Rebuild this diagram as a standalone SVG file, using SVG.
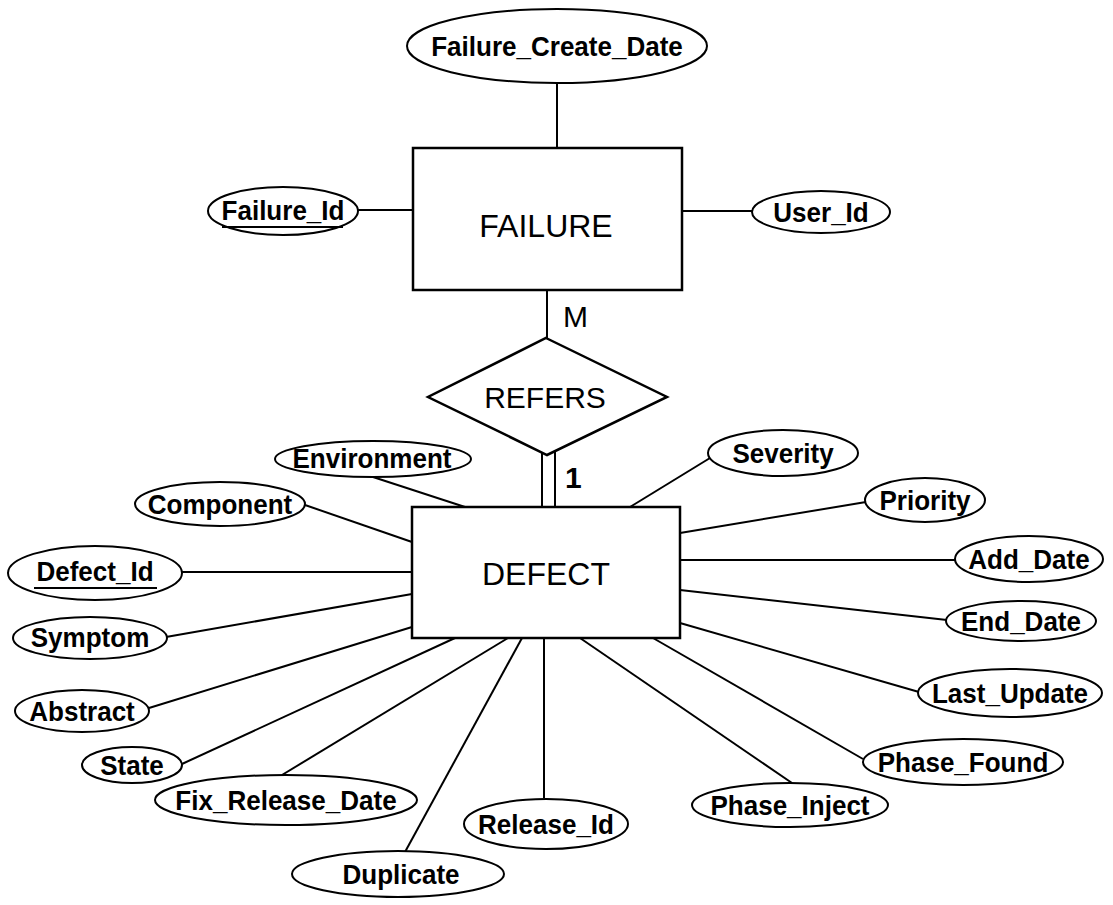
<svg xmlns="http://www.w3.org/2000/svg" width="1113" height="905" viewBox="0 0 1113 905">
  <style>
    .attr ellipse { fill: #fff; stroke: #000; stroke-width: 2; }
    .attr text { font-family: "Liberation Sans", Arial, sans-serif; font-weight: bold; font-size: 28px; text-anchor: middle; fill: #000; }
    .key { stroke: #000; stroke-width: 2; }
    .entity rect, .rel polygon { fill: #fff; stroke: #000; stroke-width: 2.5; }
    .entity text, .rel text { font-family: "Liberation Sans", Arial, sans-serif; font-size: 32px; text-anchor: middle; fill: #000; }
    .card { font-family: "Liberation Sans", Arial, sans-serif; font-size: 30px; fill: #000; }
    #connectors line { stroke: #000; stroke-width: 2; }
  </style>
  <rect width="1113" height="905" fill="#fff"/>

  <!-- attribute links and relationship lines -->
  <g id="connectors">
    <line x1="557" y1="82" x2="557" y2="148"/>
    <line x1="357" y1="210" x2="413" y2="210"/>
    <line x1="682" y1="211" x2="752" y2="211"/>
    <line x1="547" y1="290" x2="547" y2="338"/>
    <line x1="542" y1="453" x2="542" y2="507"/>
    <line x1="555" y1="452" x2="555" y2="507"/>
    <line x1="373" y1="477" x2="465" y2="507"/>
    <line x1="305" y1="505" x2="412" y2="542"/>
    <line x1="182" y1="572" x2="412" y2="572"/>
    <line x1="166" y1="637" x2="412" y2="594"/>
    <line x1="149" y1="708" x2="412" y2="627"/>
    <line x1="182" y1="764" x2="455" y2="638"/>
    <line x1="282" y1="775" x2="508" y2="638"/>
    <line x1="405" y1="852" x2="522" y2="638"/>
    <line x1="544" y1="638" x2="544" y2="798"/>
    <line x1="580" y1="638" x2="792" y2="783"/>
    <line x1="653" y1="638" x2="863" y2="759"/>
    <line x1="680" y1="623" x2="919" y2="692"/>
    <line x1="680" y1="590" x2="947" y2="620"/>
    <line x1="680" y1="560" x2="955" y2="560"/>
    <line x1="680" y1="533" x2="866" y2="502"/>
    <line x1="630" y1="507" x2="710" y2="458"/>
  </g>

  <!-- entities -->
  <g id="failure" class="entity">
    <rect x="413" y="148" width="269" height="142"/>
    <text x="546" y="237">FAILURE</text>
  </g>
  <g id="defect" class="entity">
    <rect x="412" y="507" width="268" height="131"/>
    <text x="546" y="585">DEFECT</text>
  </g>

  <!-- relationship -->
  <g id="refers" class="rel">
    <polygon points="546,338 667,397 547,455 428,397"/>
    <text x="545" y="408" style="font-size:30px">REFERS</text>
  </g>
  <text class="card" x="563" y="327">M</text>
  <text class="card" x="565" y="488" font-weight="bold">1</text>

  <!-- FAILURE attributes -->
  <g id="attr-failure-create-date" class="attr">
    <ellipse cx="557" cy="46" rx="150" ry="37"/>
    <text transform="translate(557 56) scale(0.93 1)">Failure_Create_Date</text>
  </g>
  <g id="attr-failure-id" class="attr">
    <ellipse cx="283" cy="211" rx="75" ry="24"/>
    <text transform="translate(283 220) scale(0.93 1)">Failure_Id</text>
    <line class="key" x1="222" y1="227" x2="343" y2="227"/>
  </g>
  <g id="attr-user-id" class="attr">
    <ellipse cx="821" cy="212" rx="69" ry="21"/>
    <text transform="translate(821 222) scale(0.93 1)">User_Id</text>
  </g>

  <!-- DEFECT attributes -->
  <g id="attr-environment" class="attr">
    <ellipse cx="373" cy="459" rx="98" ry="18"/>
    <text transform="translate(372 468) scale(0.93 1)">Environment</text>
  </g>
  <g id="attr-component" class="attr">
    <ellipse cx="220" cy="504" rx="85" ry="22"/>
    <text transform="translate(220 514) scale(0.93 1)">Component</text>
  </g>
  <g id="attr-defect-id" class="attr">
    <ellipse cx="95" cy="573" rx="87" ry="27"/>
    <text transform="translate(95 581) scale(0.93 1)">Defect_Id</text>
    <line class="key" x1="34" y1="588" x2="157" y2="588"/>
  </g>
  <g id="attr-symptom" class="attr">
    <ellipse cx="90" cy="638" rx="77" ry="21"/>
    <text transform="translate(90 647) scale(0.93 1)">Symptom</text>
  </g>
  <g id="attr-abstract" class="attr">
    <ellipse cx="82" cy="711" rx="67" ry="21"/>
    <text transform="translate(82 721) scale(0.93 1)">Abstract</text>
  </g>
  <g id="attr-state" class="attr">
    <ellipse cx="132" cy="765" rx="50" ry="18"/>
    <text transform="translate(132 775) scale(0.93 1)">State</text>
  </g>
  <g id="attr-fix-release-date" class="attr">
    <ellipse cx="286" cy="800" rx="131" ry="25"/>
    <text transform="translate(286 810) scale(0.93 1)">Fix_Release_Date</text>
  </g>
  <g id="attr-duplicate" class="attr">
    <ellipse cx="398" cy="874" rx="106" ry="23"/>
    <text transform="translate(401 884) scale(0.93 1)">Duplicate</text>
  </g>
  <g id="attr-release-id" class="attr">
    <ellipse cx="546" cy="824" rx="82" ry="25"/>
    <text transform="translate(546 834) scale(0.93 1)">Release_Id</text>
  </g>
  <g id="attr-phase-inject" class="attr">
    <ellipse cx="790" cy="805" rx="98" ry="22"/>
    <text transform="translate(790 815) scale(0.93 1)">Phase_Inject</text>
  </g>
  <g id="attr-phase-found" class="attr">
    <ellipse cx="963" cy="762" rx="100" ry="23"/>
    <text transform="translate(963 772) scale(0.93 1)">Phase_Found</text>
  </g>
  <g id="attr-last-update" class="attr">
    <ellipse cx="1010" cy="693" rx="92" ry="24"/>
    <text transform="translate(1010 703) scale(0.93 1)">Last_Update</text>
  </g>
  <g id="attr-end-date" class="attr">
    <ellipse cx="1021" cy="621" rx="75" ry="20"/>
    <text transform="translate(1021 631) scale(0.93 1)">End_Date</text>
  </g>
  <g id="attr-add-date" class="attr">
    <ellipse cx="1029" cy="559" rx="74" ry="23"/>
    <text transform="translate(1029 569) scale(0.93 1)">Add_Date</text>
  </g>
  <g id="attr-priority" class="attr">
    <ellipse cx="925" cy="500" rx="60" ry="22"/>
    <text transform="translate(925 510) scale(0.93 1)">Priority</text>
  </g>
  <g id="attr-severity" class="attr">
    <ellipse cx="783" cy="453" rx="75" ry="23"/>
    <text transform="translate(783 463) scale(0.93 1)">Severity</text>
  </g>
</svg>
